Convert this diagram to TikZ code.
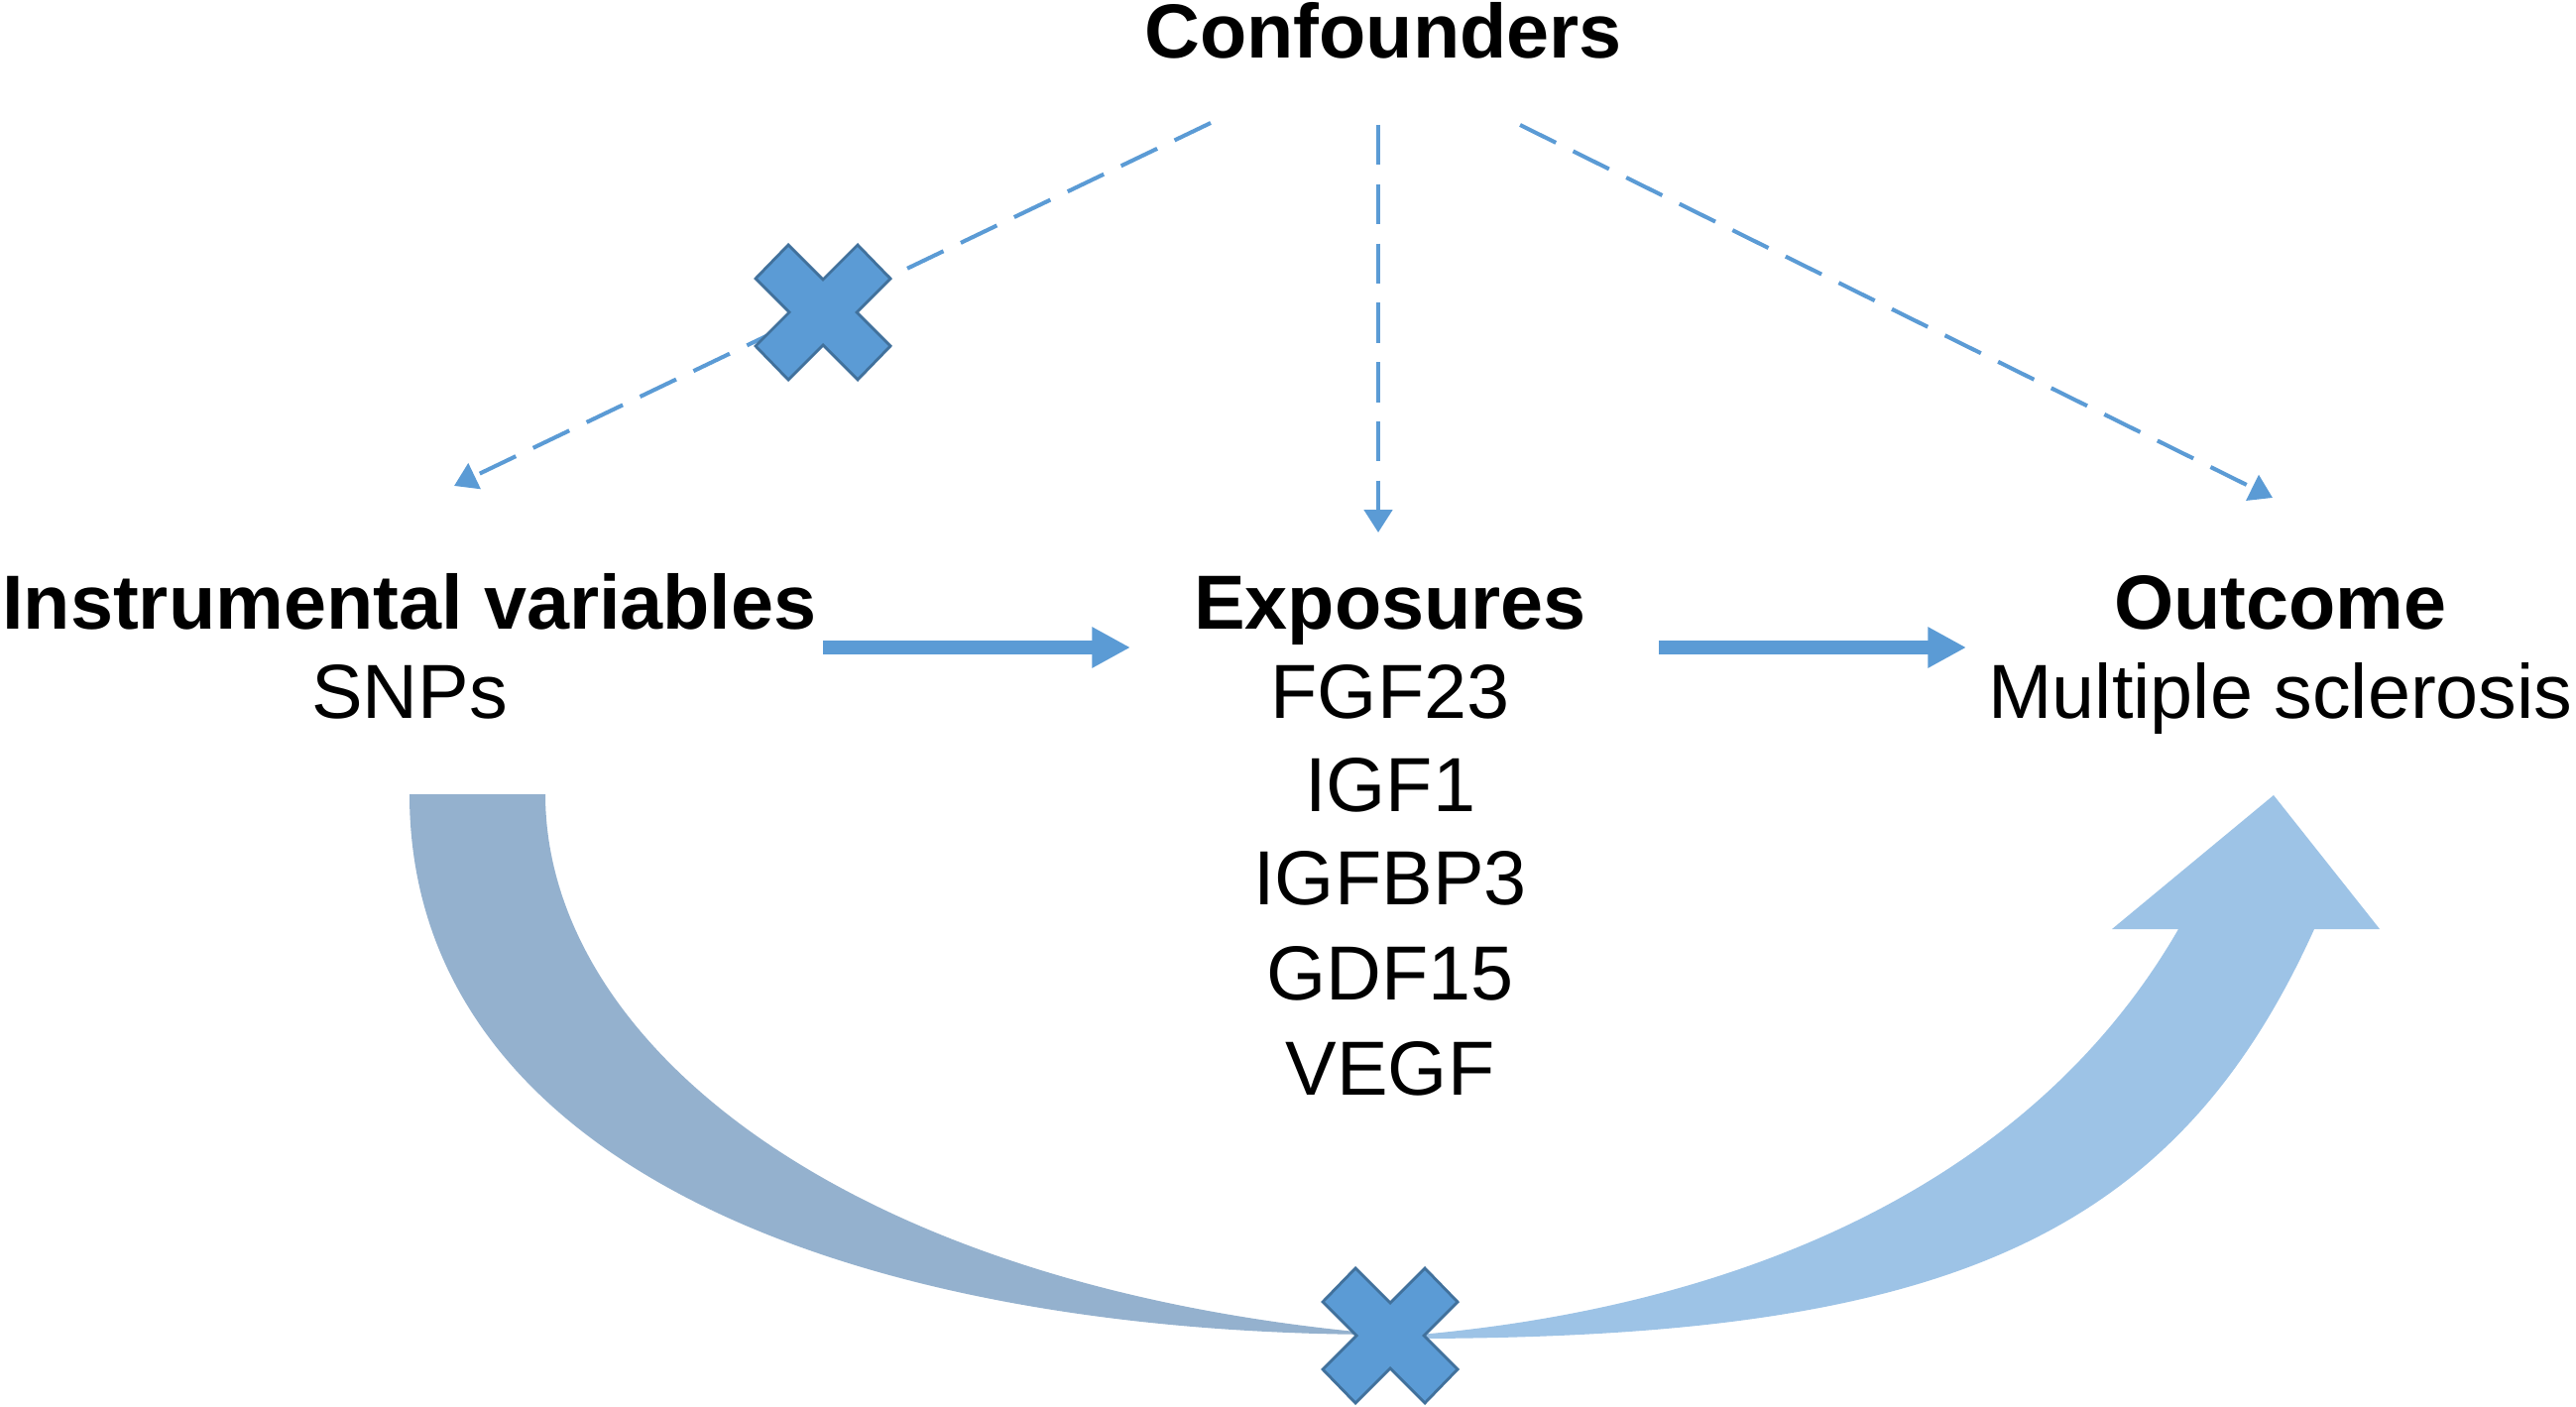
\documentclass[tikz,border=0pt]{standalone}
\usepackage{fontspec}
\setmainfont{Liberation Sans}
\usetikzlibrary{arrows.meta}
\definecolor{accent}{HTML}{5B9BD5}
\definecolor{xborder}{HTML}{41719C}
\definecolor{bandL}{HTML}{94B1CE}
\definecolor{bandR}{HTML}{9DC3E6}
\begin{document}
\begin{tikzpicture}[x=0.01cm,y=-0.01cm,
  lbl/.style={anchor=base,inner sep=0pt,font=\fontsize{22}{26}\selectfont},
  head/.style={lbl,font=\fontsize{22}{26}\selectfont\bfseries},
  dashline/.style={draw=accent,line width=1.15pt,dash pattern=on 11.5pt off 5.5pt,-{Triangle[width=8pt,length=6.5pt]}},
  mainarrow/.style={draw=accent,line width=3.7pt,-{Triangle[width=11pt,length=11pt]}},
  crossx/.pic={\filldraw[fill=accent,draw=xborder,line width=0.8pt,line join=miter]
     (-68,-34) -- (-35,-68) -- (0,-33) -- (35,-68) -- (68,-34) -- (34,0) -- (68,34)
     -- (35,68) -- (0,33) -- (-35,68) -- (-68,34) -- (-34,0) -- cycle;},
  band/.style={draw=none}
]
\useasboundingbox[fill=white] (0,0) rectangle (2598,1419);

% curved arrow (instrument -> outcome, blocked)
\fill[bandL,band] (413,801) .. controls (413,1170) and (850,1346) .. (1400,1346)
   .. controls (850,1300) and (550,1050) .. (550,801) -- cycle;
\fill[bandR,band] (1420,1350) .. controls (1950,1350) and (2190,1256) .. (2334,937)
   -- (2400,937) -- (2293,802) -- (2130,937) -- (2197,937)
   .. controls (2047,1197) and (1750,1320) .. (1420,1347) -- cycle;

% text nodes
\node[head] (conf) at (1395,59) {Confounders};
\node[head] (iv) at (413,634) {Instrumental variables};
\node[lbl] (snps) at (413,724) {SNPs};
\node[head] (exp) at (1402,634) {Exposures};
\node[lbl] (fgf) at (1402,724) {FGF23};
\node[lbl] (igf) at (1402,818) {IGF1};
\node[lbl] (igfbp) at (1402,912) {IGFBP3};
\node[lbl] (gdf) at (1402,1008) {GDF15};
\node[lbl] (vegf) at (1402,1104) {VEGF};
\node[head] (out) at (2300,634) {Outcome};
\node[lbl] (ms) at (2300,724) {Multiple sclerosis};

% connector ports
\coordinate (cL) at (1221,124);
\coordinate (cM) at (1390,126);
\coordinate (cR) at (1533,126);
\coordinate (ivTop) at (458,490);
\coordinate (expTop) at (1390,537);
\coordinate (outTop) at (2292,502);
\coordinate (ivE) at (830,653);
\coordinate (expW) at (1140,653);
\coordinate (expE) at (1673,653);
\coordinate (outW) at (1983,653);

% confounder paths
\draw[dashline] (cL) -- (ivTop);
\draw[dashline] (cM) -- (expTop);
\draw[dashline] (cR) -- (outTop);

% causal paths
\draw[mainarrow] (ivE) -- (expW);
\draw[mainarrow] (expE) -- (outW);

% blocked marks
\pic at (830,315) {crossx};
\pic at (1402,1347) {crossx};
\end{tikzpicture}
\end{document}
